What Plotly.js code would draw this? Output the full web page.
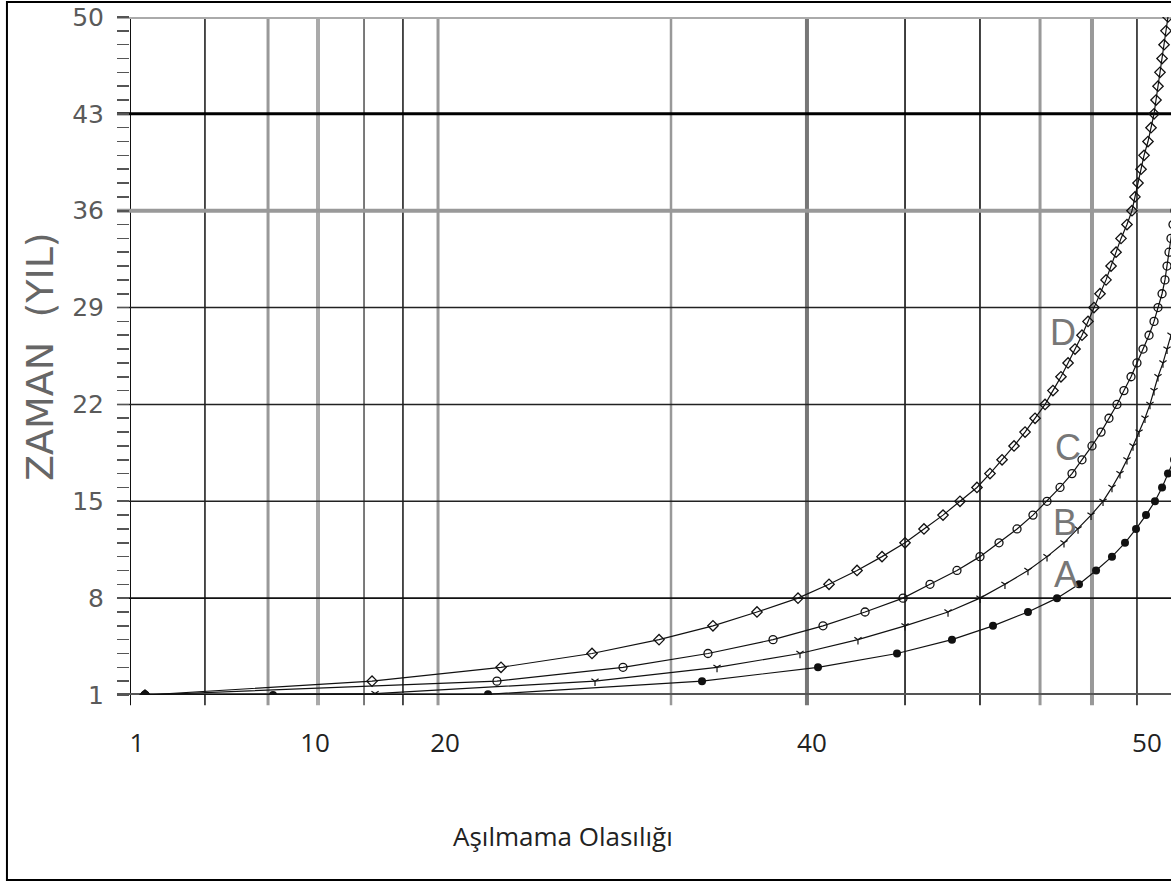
<!DOCTYPE html>
<html>
<head>
<meta charset="utf-8">
<script src="https://cdn.plot.ly/plotly-3.0.1.min.js"></script>
<style>html,body{margin:0;padding:0;background:#fff;}#chart{width:1171px;height:883px;}</style>
</head>
<body>
<div id="chart"></div>
<script>
// x positions are in axis units (0-100 across the plot width); y = ZAMAN (YIL)
const xTickPos = [0.67, 17.77, 30.26, 65.51, 97.69];
const xTickText = ['1', '10', '20', '40', '50'];
const yMajor = [1, 8, 15, 22, 29, 36, 43, 50];

const dX = [1.44, 23.25, 35.64, 44.38, 50.82, 56.00, 60.23, 64.17, 67.15, 69.84,
            72.24, 74.45, 76.27, 78.10, 79.73, 81.36, 82.61, 83.77, 84.92, 85.98,
            86.94, 87.90, 88.66, 89.43, 90.11, 90.78, 91.45, 92.03, 92.60, 93.18,
            93.76, 94.24, 94.72, 95.20, 95.77, 96.25, 96.54, 96.83, 97.12, 97.41,
            97.79, 98.08, 98.37, 98.56, 98.75, 98.94, 99.14, 99.33, 99.52, 99.71];
const dY = [1, 2, 3, 4, 5, 6, 7, 8, 9, 10, 11, 12, 13, 14, 15, 16, 17, 18, 19, 20,
            21, 22, 23, 24, 25, 26, 27, 28, 29, 30, 31, 32, 33, 34, 35, 36, 37, 38, 39, 40,
            41, 42, 43, 44, 45, 46, 47, 48, 49, 50];

const cX = [1.44, 35.25, 47.36, 55.52, 61.77, 66.57, 70.61, 74.26, 76.85, 79.44,
            81.65, 83.48, 85.21, 86.74, 88.09, 89.34, 90.49, 91.45, 92.41, 93.28,
            94.04, 94.81, 95.48, 96.16, 96.73, 97.31, 97.89, 98.37, 98.75, 99.14,
            99.42, 99.62, 99.81, 100.0, 100.19, 100.38];
const cY = [1, 2, 3, 4, 5, 6, 7, 8, 9, 10, 11, 12, 13, 14, 15, 16, 17, 18, 19, 20,
            21, 22, 23, 24, 25, 26, 27, 28, 29, 30, 31, 32, 33, 34, 35, 36];

const bX = [1.44, 23.54, 44.67, 56.39, 64.36, 69.93, 74.45, 78.58, 81.65, 84.05,
            86.26, 88.09, 89.72, 91.07, 92.32, 93.47, 94.33, 95.10, 95.77, 96.35,
            96.93, 97.50, 97.98, 98.37, 98.75, 99.23, 99.62, 100.0, 100.38];
const bY = [1, 1.1, 2, 3, 4, 5, 6, 7, 8, 9, 10, 11, 12, 13, 14, 15, 16, 17, 18, 19,
            20, 21, 22, 23, 24, 25, 26, 27, 28];

const aX = [1.44, 13.74, 34.39, 54.95, 66.09, 73.68, 78.96, 82.90, 86.26, 89.05,
            91.16, 92.80, 94.33, 95.58, 96.64, 97.60, 98.46, 99.14, 99.71, 100.29];
const aY = [1, 1.0, 1.05, 2, 3, 4, 5, 6, 7, 8, 9, 10, 11, 12, 13, 14, 15, 16, 17, 18];

const curveLabels = ['D', 'C', 'B', 'A'];
const curveLabelX = [89.63, 90.11, 89.82, 89.91];
const curveLabelY = [27.23, 18.92, 13.5, 9.74];

// grid lines (positions on the axes)
const vGrid = [0, 7.20, 13.26, 18.06, 22.48, 26.22, 29.59, 51.97, 65.03, 74.45, 81.65, 87.42, 92.41, 96.73];
const vGridColor = ['#111', '#222', '#999', '#aaa', '#333', '#222', '#999', '#999', '#777', '#111', '#111', '#999', '#999', '#222'];
const vGridWidth = [2, 1.6, 3, 4, 1.3, 1.6, 3, 2.5, 4, 1.6, 1.6, 3, 4, 1.6];
const hGrid = [1, 8, 15, 22, 29, 36, 43, 50];
const hGridColor = ['#555', '#111', '#222', '#222', '#222', '#999', '#000', '#aaa'];
const hGridWidth = [4, 1.6, 1.6, 1.6, 1.6, 4, 3, 4];

const yTickVals = [];
const yTickText = [];
for (let v = 1; v <= 50; v++) {
  yTickVals.push(v);
  yTickText.push(yMajor.includes(v) ? String(v) : '');
}

const lineStyle = {color: '#111', width: 1.2};
const traces = [
  {x: dX, y: dY, mode: 'lines+markers', name: 'D', line: lineStyle,
   marker: {symbol: 'diamond-open', size: 8, color: '#111', line: {width: 1.3, color: '#111'}}},
  {x: cX, y: cY, mode: 'lines+markers', name: 'C', line: lineStyle,
   marker: {symbol: 'circle-open', size: 8, color: '#111', line: {width: 1.3, color: '#111'}}},
  {x: bX, y: bY, mode: 'lines+markers', name: 'B', line: lineStyle,
   marker: {symbol: 'y-down-open', size: 6, color: '#111', line: {width: 1.2, color: '#111'}}},
  {x: aX, y: aY, mode: 'lines+markers', name: 'A', line: lineStyle,
   marker: {symbol: 'circle', size: 8, color: '#111'}}
];

const shapes = [];
vGrid.forEach((v, i) => shapes.push({
  type: 'line', layer: 'below', xref: 'x', yref: 'paper', x0: v, x1: v, y0: -0.015, y1: 1,
  line: {color: vGridColor[i], width: vGridWidth[i]}
}));
hGrid.forEach((v, i) => shapes.push({
  type: 'line', layer: 'below', xref: 'paper', yref: 'y', x0: -0.0125, x1: 1.01, y0: v, y1: v,
  line: {color: hGridColor[i], width: hGridWidth[i]}
}));
// outer frame
shapes.push({type: 'rect', xref: 'paper', yref: 'paper', x0: -0.1182, x1: 1.02, y0: -0.2729, y1: 1.0221,
  line: {color: '#000', width: 2}, fillcolor: 'rgba(0,0,0,0)'});

const annotations = curveLabels.map((t, i) => ({
  text: t, x: curveLabelX[i], y: curveLabelY[i], xref: 'x', yref: 'y', showarrow: false,
  font: {family: 'Liberation Sans, Arial, sans-serif', size: 36, color: '#777'}
}));
annotations.push({
  text: 'ZAMAN  (YIL)', xref: 'paper', yref: 'paper', x: -0.0865, y: 0.5, textangle: -90,
  showarrow: false, xanchor: 'center', yanchor: 'middle',
  font: {family: 'DejaVu Sans, sans-serif', size: 38, color: '#666'}
});
annotations.push({
  text: 'Aşılmama Olasılığı', xref: 'paper', yref: 'paper', x: 0.416, y: -0.208,
  showarrow: false, xanchor: 'center', yanchor: 'middle',
  font: {family: 'Open Sans, sans-serif', size: 26, color: '#222'}
});

const layout = {
  width: 1171, height: 883,
  margin: {l: 130, r: 0, t: 17, b: 188, pad: 0},
  paper_bgcolor: '#fff', plot_bgcolor: '#fff',
  showlegend: false,
  xaxis: {
    range: [0, 100], showgrid: false, zeroline: false, showline: false,
    tickmode: 'array', tickvals: xTickPos, ticktext: xTickText, ticks: '',
    ticklabelstandoff: 30,
    tickfont: {family: 'Open Sans, sans-serif', size: 26, color: '#222'}
  },
  yaxis: {
    range: [1, 50], showgrid: false, zeroline: false, showline: false,
    tickmode: 'array', tickvals: yTickVals, ticktext: yTickText,
    ticks: 'outside', ticklen: 12, tickwidth: 1.6, tickcolor: '#555',
    ticklabelstandoff: 8,
    tickfont: {family: 'DejaVu Sans, sans-serif', size: 25, color: '#5a5a5a'}
  },
  shapes: shapes,
  annotations: annotations
};

Plotly.newPlot('chart', traces, layout, {staticPlot: true, displayModeBar: false});
</script>
</body>
</html>
